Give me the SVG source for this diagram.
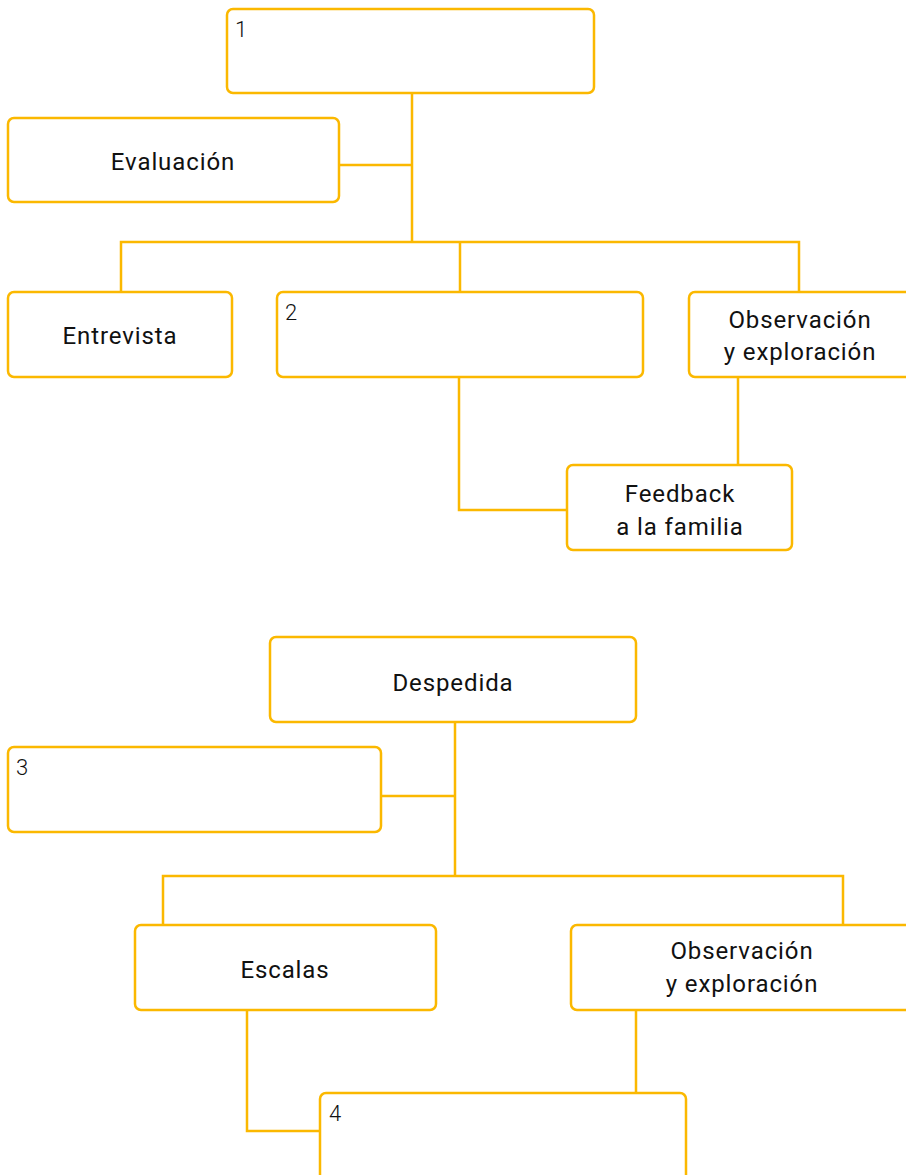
<svg xmlns="http://www.w3.org/2000/svg" width="906" height="1175" viewBox="0 0 906 1175">
<style>
.box{fill:#fff;stroke:#FBB800;stroke-width:2.5}
.ln{fill:none;stroke:#FBB800;stroke-width:2.5}
.t{font-family:Roboto,"Liberation Sans",sans-serif;font-size:24px;letter-spacing:0.9px;fill:#111;text-anchor:middle}
.n{font-family:Roboto,"Liberation Sans",sans-serif;font-size:22px;fill:#111;font-weight:300}
</style>
<rect width="906" height="1175" fill="#fff"/>
<g id="connectors">
<path class="ln" d="M412 93V242M339 165H412M121 292V242H799V292M460 242V292"/>
<path class="ln" d="M459 377V510H568M738 377V465"/>
<path class="ln" d="M455 722V876M381 796H455M163 925V876H843V925"/>
<path class="ln" d="M247 1010V1131H320M636 1010V1093"/>
</g>
<g id="n1"><rect class="box" x="227" y="9" width="367" height="84" rx="6"/><text class="n" x="235" y="37">1</text></g>
<g id="evaluacion"><rect class="box" x="8" y="118" width="331" height="84" rx="6"/><text class="t" x="173" y="170">Evaluación</text></g>
<g id="entrevista"><rect class="box" x="8" y="292" width="224" height="85" rx="6"/><text class="t" x="120" y="344">Entrevista</text></g>
<g id="n2"><rect class="box" x="277" y="292" width="366" height="85" rx="6"/><text class="n" x="285" y="320">2</text></g>
<g id="observacion1"><rect class="box" x="689" y="292" width="240" height="85" rx="6"/><text class="t" x="800" y="328">Observación</text><text class="t" x="800" y="360">y exploración</text></g>
<g id="feedback"><rect class="box" x="567" y="465" width="225" height="85" rx="6"/><text class="t" x="680" y="502">Feedback</text><text class="t" x="680" y="535">a la familia</text></g>
<g id="despedida"><rect class="box" x="270" y="637" width="366" height="85" rx="6"/><text class="t" x="453" y="691">Despedida</text></g>
<g id="n3"><rect class="box" x="8" y="747" width="373" height="85" rx="6"/><text class="n" x="16" y="775">3</text></g>
<g id="escalas"><rect class="box" x="135" y="925" width="301" height="85" rx="6"/><text class="t" x="285" y="978">Escalas</text></g>
<g id="observacion2"><rect class="box" x="571" y="925" width="360" height="85" rx="6"/><text class="t" x="742" y="959">Observación</text><text class="t" x="742" y="992">y exploración</text></g>
<g id="n4"><rect class="box" x="320" y="1093" width="366" height="110" rx="6"/><text class="n" x="329" y="1121">4</text></g>
</svg>
